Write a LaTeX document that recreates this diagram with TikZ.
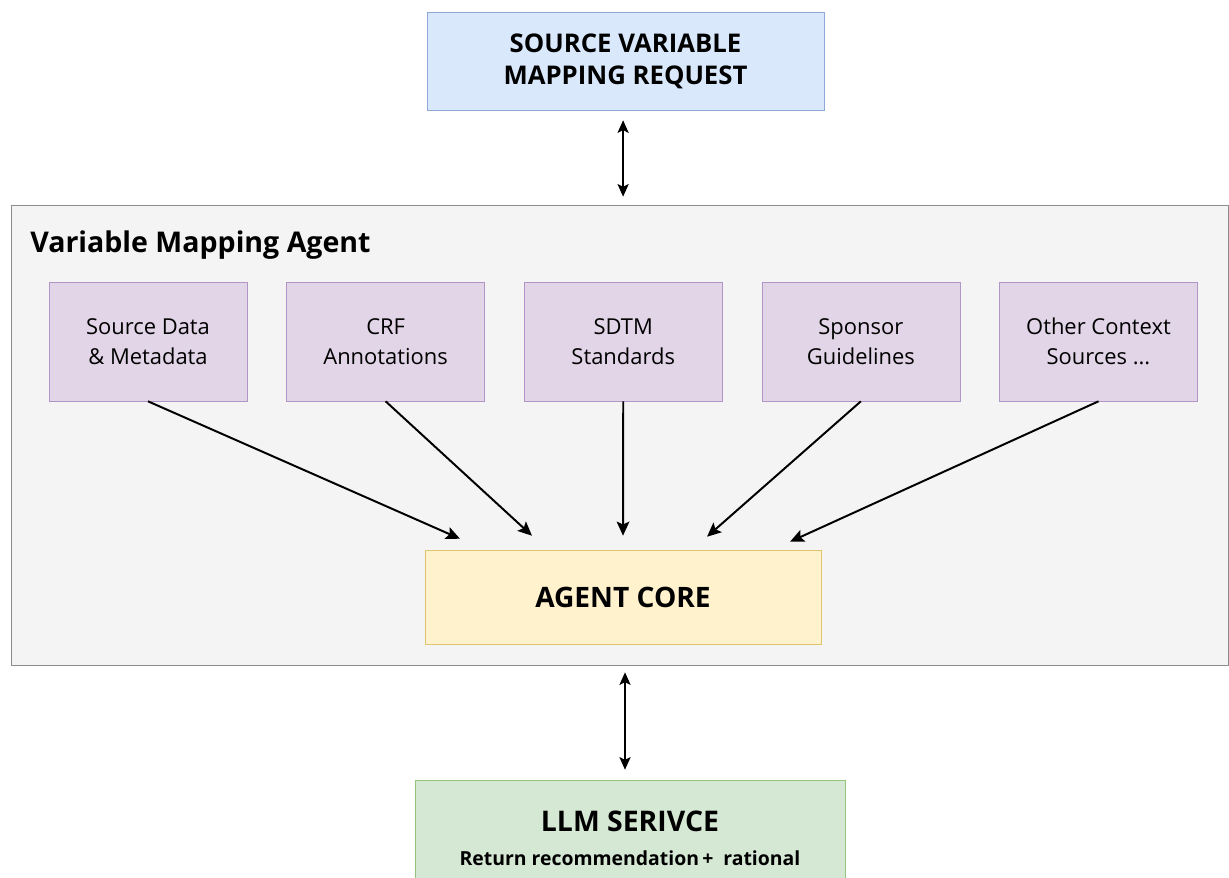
\documentclass[tikz,border=0pt]{standalone}
\usepackage{fontspec}
\setmainfont{Open Sans}
\usepackage{xcolor}
\usetikzlibrary{arrows.meta,positioning}

\definecolor{reqfill}{HTML}{DAE8FC}
\definecolor{reqdraw}{HTML}{8EA9D8}
\definecolor{agentfill}{HTML}{F4F4F4}
\definecolor{agentdraw}{HTML}{8C8C8C}
\definecolor{srcfill}{HTML}{E1D5E7}
\definecolor{srcdraw}{HTML}{B195C6}
\definecolor{corefill}{HTML}{FFF2CC}
\definecolor{coredraw}{HTML}{E0C56E}
\definecolor{llmfill}{HTML}{D5E8D4}
\definecolor{llmdraw}{HTML}{93C47D}

\begin{document}
\begin{tikzpicture}[
    x=0.025cm, y=-0.025cm,
    >={Stealth[length=10pt,width=9pt,inset=2pt]},
    node distance=0.975cm,
    srcbox/.style={
        draw=srcdraw,
        fill=srcfill,
        align=center,
        font=\fontsize{15.6}{21}\selectfont,
        minimum width=4.95cm,
        minimum height=2.975cm,
        inner sep=0pt
    },
    feed/.style={->, line width=1.4pt},
    link/.style={{Stealth[length=9pt,width=8pt,inset=2pt]}-{Stealth[length=9pt,width=8pt,inset=2pt]}, line width=0.9pt}
]
\useasboundingbox (0,0) rectangle (1229,877);
\clip (0,0) rectangle (1229,877);

\node[draw=reqdraw, fill=reqfill, align=center, inner sep=0pt,
      font=\fontsize{18.3}{22.8}\selectfont\bfseries,
      minimum width=9.925cm, minimum height=2.45cm] (request) at (625.5,61)
  {SOURCE VARIABLE\\MAPPING REQUEST};

\node[draw=agentdraw, fill=agentfill, inner sep=0pt,
      minimum width=30.425cm, minimum height=11.5cm] (agent) at (619.5,435) {};

\node[anchor=base west, inner sep=0pt, font=\fontsize{20.3}{24}\selectfont\bfseries]
  (title) at (30,252) {Variable Mapping Agent};

\node[srcbox] (srcdata) at (148,341.5) {Source Data\\\& Metadata};
\node[srcbox, right=of srcdata] (crf) {CRF\\Annotations};
\node[srcbox, right=of crf] (sdtm) {SDTM\\Standards};
\node[srcbox, right=of sdtm] (sponsor) {Sponsor\\Guidelines};
\node[srcbox, right=of sponsor] (other) {Other Context\\Sources ...};

\node[draw=coredraw, fill=corefill, inner sep=0pt,
      font=\fontsize{20}{24}\selectfont\bfseries,
      minimum width=9.9cm, minimum height=2.35cm] (core) at (623,597)
  {AGENT CORE};

\node[draw=llmdraw, fill=llmfill, align=center, inner sep=0pt,
      minimum width=10.75cm, minimum height=2.9cm] (llm) at (630,838)
  {{\fontsize{20.2}{24}\selectfont\bfseries LLM SERIVCE}\\[12pt]
   {\fontsize{13.8}{16}\selectfont\bfseries Return recommendation\,+~~rational}};

\foreach \s/\dx/\dy in {srcdata/-4.075/0.275, crf/-2.275/0.35, sdtm/0/0.35,
                        sponsor/2.1/0.325, other/4.175/0.2}
  \draw[feed] (\s.south) -- ([xshift=\dx cm, yshift=\dy cm]core.north);

\draw[link, shorten <=0.25cm, shorten >=0.2cm]
  ([xshift=-0.06cm]request.south) -- ([xshift=-0.06cm]request.south |- agent.north);
\draw[link, shorten <=0.175cm, shorten >=0.25cm]
  ([xshift=0.05cm]core.south |- agent.south) -- ([xshift=0.05cm]core.south |- llm.north);

\end{tikzpicture}
\end{document}
